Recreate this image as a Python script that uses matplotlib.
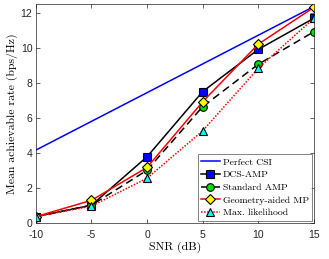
import matplotlib
matplotlib.use("Agg")
import matplotlib.pyplot as plt

snr = [-10, -5, 0, 5, 10, 15]
perfect_csi = [4.15, 5.79, 7.43, 9.07, 10.71, 12.35]
dcs_amp = [0.35, 1.0, 3.77, 7.49, 9.9, 11.68]
standard_amp = [0.35, 1.0, 3.0, 6.63, 9.05, 10.91]
geometry_mp = [0.35, 1.28, 3.16, 6.91, 10.2, 12.3]
max_likelihood = [0.35, 0.95, 2.54, 5.25, 8.82, 11.68]

plt.rcParams["font.family"] = ["Liberation Sans", "DejaVu Sans"]
plt.rcParams["axes.unicode_minus"] = False
serif = ["cmr10", "DejaVu Serif"]

fig = plt.figure(figsize=(3.29, 2.59), dpi=100)
ax = fig.add_axes([0.109, 0.140, 0.845, 0.845])

ax.plot(snr, perfect_csi, color="blue", lw=1.1, label="Perfect CSI")
ax.plot(snr, dcs_amp, color="black", lw=1.1, marker="s", ms=5.5,
        mfc="blue", mec="black", mew=0.8, label="DCS-AMP")
ax.plot(snr, standard_amp, color="black", lw=1.1, ls=(0, (5, 3)), marker="o", ms=5.5,
        mfc="#00e000", mec="black", mew=0.8, label="Standard AMP")
ax.plot(snr, geometry_mp, color="red", lw=1.1, marker="D", ms=5,
        mfc="yellow", mec="black", mew=0.8, label="Geometry-aided MP")
ax.plot(snr, max_likelihood, color="red", lw=1.1, ls=(0, (1, 1)), marker="^", ms=6,
        mfc="cyan", mec="black", mew=0.8, label="Max. likelihood")

ax.set_xlim(-10, 15)
ax.set_ylim(0, 12.5)
ax.set_xticks([-10, -5, 0, 5, 10, 15])
ax.set_yticks([0, 2, 4, 6, 8, 10, 12])
ax.tick_params(direction="in", top=True, right=True, labelsize=7.5, length=3,
               width=0.5, colors="#262626")
ax.tick_params(axis="x", pad=5.5)
ax.tick_params(axis="y", pad=2.5)
for s in ax.spines.values():
    s.set_linewidth(0.5)
    s.set_color("#262626")

ax.set_xlabel("SNR (dB)", fontsize=8.5, family=serif, labelpad=1)
ax.set_ylabel("Mean achievable rate (bps/Hz)", fontsize=8.5, family=serif, labelpad=2)

leg = ax.legend(loc="lower right", prop={"family": serif, "size": 7},
                fancybox=False, edgecolor="#262626", handlelength=1.9,
                handletextpad=0.3, labelspacing=0.4, borderpad=0.35,
                borderaxespad=0.2)
leg.get_frame().set_linewidth(0.5)

fig.savefig("out.png", dpi=100)
